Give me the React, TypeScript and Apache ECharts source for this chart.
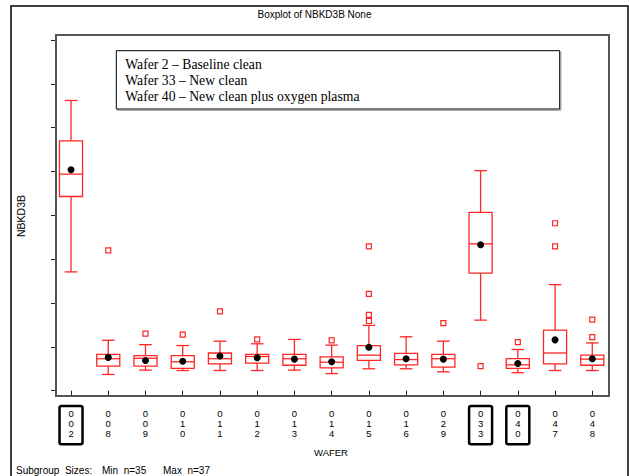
import React, { useEffect, useRef } from "react";
import * as echarts from "echarts";

// Categories (wafer ids)
const wafers = ["002", "008", "009", "010", "011", "012", "013", "014", "015", "016", "029", "033", "040", "047", "048"];
const highlighted = ["002", "033", "040"];

// Box statistics per wafer: [lowerWhisker, Q1, median, Q3, upperWhisker]
const lowerWhisker = [27.1, 3.7, 4.7, 4.6, 4.6, 4.6, 4.7, 3.9, 5.0, 5.0, 4.3, 16.1, 4.1, 4.6, 4.6];
const q1 = [44.3, 5.6, 5.6, 5.1, 6.1, 6.3, 5.8, 5.2, 6.9, 5.9, 5.4, 26.8, 5.1, 6.1, 5.8];
const median = [49.4, 7.3, 7.4, 6.6, 7.3, 7.8, 7.3, 6.5, 8.1, 7.1, 7.3, 33.5, 5.9, 8.6, 7.2];
const q3 = [57.0, 8.3, 8.0, 8.0, 8.6, 8.3, 8.3, 7.7, 10.3, 8.5, 8.3, 40.7, 7.3, 13.8, 8.1];
const upperWhisker = [66.2, 11.5, 10.5, 10.3, 11.3, 10.7, 11.7, 10.4, 14.9, 12.3, 11.3, 50.2, 9.4, 24.2, 10.9];
const means = [50.4, 7.6, 6.9, 6.7, 7.9, 7.5, 7.2, 6.6, 9.9, 7.3, 7.2, 33.3, 6.2, 11.6, 7.3];

// Outliers: [wafer, value]
const outliers: [string, number][] = [
  ["008", 32.0],
  ["009", 13.0],
  ["010", 12.8],
  ["011", 18.1],
  ["012", 11.7],
  ["014", 11.5],
  ["015", 32.9],
  ["015", 22.1],
  ["015", 17.3],
  ["015", 15.9],
  ["029", 15.4],
  ["033", 5.6],
  ["040", 11.1],
  ["047", 38.2],
  ["047", 32.9],
  ["048", 16.2],
  ["048", 12.2],
];

// Y ticks (unlabeled)
const yMin = 0;
const yMax = 80;
const yInterval = 10;

const titleText = "Boxplot of NBKD3B None";
const yName = "NBKD3B";
const xName = "WAFER";
const legendLines = [
  "Wafer 2 \u2013 Baseline clean",
  "Wafer 33 \u2013 New clean",
  "Wafer 40 \u2013 New clean plus oxygen plasma",
];
const footerParts = ["Subgroup  Sizes:", "Min  n=35", "Max  n=37"];

const RED = "#ff2626";
const SANS = "'Liberation Sans', Arial, sans-serif";
const SERIF = "'Liberation Serif', 'Times New Roman', serif";

export default function App() {
  const ref = useRef<HTMLDivElement>(null);

  useEffect(() => {
    document.body.style.margin = "0";
    const chart = echarts.init(ref.current!, null, { renderer: "svg" });

    const boxData = wafers.map((w, i) => [i, lowerWhisker[i], q1[i], median[i], q3[i], upperWhisker[i]]);

    const baseGraphics: any[] = [
      // outer frame
      { type: "rect", shape: { x: 11, y: 6, width: 617, height: 480 }, style: { fill: "none", stroke: "#000", lineWidth: 1.5 }, z: 100 },
      // plot frame
      { type: "rect", shape: { x: 56, y: 35, width: 553, height: 361 }, style: { fill: "none", stroke: "#555", lineWidth: 2 }, z: 100 },
      // legend box shadow
      { type: "rect", shape: { x: 117.5, y: 52, width: 443.4, height: 58.3 }, style: { fill: "none", stroke: "#999", lineWidth: 1 }, z: 99 },
      // legend box
      { type: "rect", shape: { x: 116.3, y: 50.7, width: 443.4, height: 58.3 }, style: { fill: "#fff", stroke: "#000", lineWidth: 1 }, z: 100 },
      ...legendLines.map((t, i) => ({
        type: "text",
        x: 125.3,
        y: 64.3 + i * 16.2,
        z: 101,
        style: { text: t, font: `13.7px ${SERIF}`, fill: "#000", textVerticalAlign: "middle", textAlign: "left" },
      })),
      { type: "text", x: 314.5, y: 14, z: 101, style: { text: titleText, font: `10px ${SANS}`, fill: "#000", textAlign: "center", textVerticalAlign: "middle" } },
      { type: "text", x: 20.5, y: 216, rotation: Math.PI / 2, z: 101, style: { text: yName, font: `10.5px ${SANS}`, fill: "#000", textAlign: "center", textVerticalAlign: "middle" } },
      { type: "text", x: 331, y: 452.7, z: 101, style: { text: xName, font: `9.5px ${SANS}`, fill: "#000", textAlign: "center", textVerticalAlign: "middle" } },
      { type: "text", x: 16, y: 470.7, z: 101, style: { text: footerParts[0], font: `10px ${SANS}`, fill: "#000", textAlign: "left", textVerticalAlign: "middle" } },
      { type: "text", x: 102, y: 470.7, z: 101, style: { text: footerParts[1], font: `10px ${SANS}`, fill: "#000", textAlign: "left", textVerticalAlign: "middle" } },
      { type: "text", x: 163, y: 470.7, z: 101, style: { text: footerParts[2], font: `10px ${SANS}`, fill: "#000", textAlign: "left", textVerticalAlign: "middle" } },
    ];

    chart.setOption({
      animation: false,
      backgroundColor: "#fff",
      grid: { left: 52.4, right: 18.1, top: 40, bottom: 85.3, containLabel: false },
      xAxis: {
        type: "category",
        data: wafers,
        offset: 5.3,
        axisLine: { show: false },
        axisTick: { show: true, alignWithLabel: true, length: 5, lineStyle: { color: "#222", width: 1 } },
        axisLabel: {
          interval: 0,
          margin: 12,
          fontSize: 9.5,
          lineHeight: 10.3,
          fontFamily: SANS,
          color: "#000",
          formatter: (v: string) => v.split("").join("\n"),
        },
        splitLine: { show: false },
      },
      yAxis: {
        type: "value",
        min: yMin,
        max: yMax,
        interval: yInterval,
        offset: -3.6,
        axisLine: { show: false },
        axisTick: { show: true, length: 5, lineStyle: { color: "#222", width: 1 } },
        axisLabel: { show: false },
        splitLine: { show: false },
      },
      series: [
        {
          type: "custom",
          data: boxData,
          encode: { x: 0, y: [1, 2, 3, 4, 5] },
          z: 2,
          renderItem: (params: any, api: any) => {
            const idx = api.value(0);
            const pLw = api.coord([idx, api.value(1)]);
            const pQ1 = api.coord([idx, api.value(2)]);
            const pMed = api.coord([idx, api.value(3)]);
            const pQ3 = api.coord([idx, api.value(4)]);
            const pUw = api.coord([idx, api.value(5)]);
            const band = api.size([1, 0])[0];
            const bw = band * 0.62;
            const cw = band * 0.34;
            const cx = pLw[0];
            const st = { stroke: RED, lineWidth: 1.3, fill: "none" };
            return {
              type: "group",
              children: [
                { type: "rect", shape: { x: cx - bw / 2, y: pQ3[1], width: bw, height: pQ1[1] - pQ3[1] }, style: st },
                { type: "line", shape: { x1: cx - bw / 2, y1: pMed[1], x2: cx + bw / 2, y2: pMed[1] }, style: st },
                { type: "line", shape: { x1: cx, y1: pQ3[1], x2: cx, y2: pUw[1] }, style: st },
                { type: "line", shape: { x1: cx - cw / 2, y1: pUw[1], x2: cx + cw / 2, y2: pUw[1] }, style: st },
                { type: "line", shape: { x1: cx, y1: pQ1[1], x2: cx, y2: pLw[1] }, style: st },
                { type: "line", shape: { x1: cx - cw / 2, y1: pLw[1], x2: cx + cw / 2, y2: pLw[1] }, style: st },
              ],
            };
          },
        },
        {
          type: "scatter",
          data: outliers,
          symbol: "rect",
          symbolSize: 5,
          z: 3,
          itemStyle: { color: "#fff", borderColor: RED, borderWidth: 1.2, opacity: 1 },
        },
        {
          type: "scatter",
          data: wafers.map((w, i) => [w, means[i]]),
          symbol: "circle",
          symbolSize: 7,
          z: 4,
          itemStyle: { color: "#000", opacity: 1 },
        },
      ],
      graphic: baseGraphics,
    });

    // Boxes around highlighted wafer labels, positioned from the axis scale
    const labelBoxes = highlighted.map((w) => {
      const px = chart.convertToPixel({ xAxisIndex: 0 }, w) as number;
      return {
        type: "rect",
        shape: { x: px - 11.5, y: 406, width: 23, height: 38.3, r: 2 },
        style: { fill: "none", stroke: "#000", lineWidth: 2.5 },
        z: 101,
      };
    });
    chart.setOption({ graphic: [...baseGraphics, ...labelBoxes] });

    return () => chart.dispose();
  }, []);

  return <div ref={ref} style={{ position: "absolute", left: 0, top: 0, width: 629, height: 476 }} />;
}
